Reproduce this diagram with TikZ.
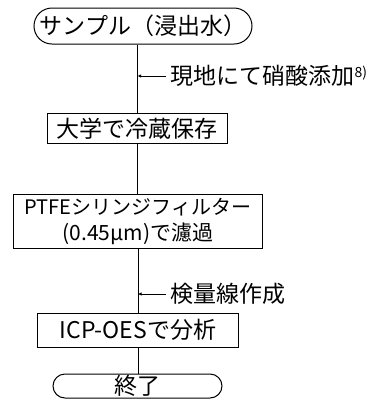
\documentclass[tikz,border=0pt]{standalone}
\usepackage{fontspec}
\setmainfont{Noto Sans CJK JP}
\usetikzlibrary{arrows.meta}
\begin{document}
\begin{tikzpicture}[x=1bp,y=-1bp,line width=1bp,
  every node/.style={font=\fontsize{23bp}{24bp}\selectfont,inner sep=0pt},
  boxnode/.style={draw,rectangle},
  stadium/.style={draw,rectangle,rounded corners=#1},
  notenode/.style={anchor=west},
  note/.style={-{Latex[length=3.5bp,width=3.5bp]},line width=0.8bp}]
\useasboundingbox (0,0) rectangle (385,400);
\node[stadium=18bp,minimum width=218bp,minimum height=36bp] (s) at (143,26) {サンプル（浸出水）};
\node[boxnode,minimum width=179bp,minimum height=30bp] (b1) at (137.5,128.5) {大学で冷蔵保存};
\node[boxnode,minimum width=248bp,minimum height=54bp,align=center,
      font=\fontsize{20bp}{26bp}\selectfont] (b2) at (138,221) {PTFEシリンジフィルター\\{\fontsize{21bp}{26bp}\selectfont (0.45µm)で濾過}};
\node[boxnode,minimum width=200bp,minimum height=34bp] (b3) at (138,330) {ICP-OESで分析};
\node[stadium=12bp,minimum width=169bp,minimum height=24bp] (e) at (137.5,386) {終了};
\node[notenode] (t1) at (170,76) {現地にて硝酸添加\raisebox{7bp}{\fontsize{14bp}{14bp}\selectfont 8)}};
\node[notenode] (t2) at (170,294) {検量線作成};
\draw (b1.north |- s.south) -- (b1.north);
\draw (b1.south) -- (b1.south |- b2.north);
\draw (b3.north |- b2.south) -- (b3.north);
\draw (b3.south) -- (b3.south |- e.north);
\coordinate (a1) at (b1.north |- t1.west);
\coordinate (a2) at (b3.north |- t2.west);
\draw[note] ([xshift=-4bp]t1.west) -- (a1);
\draw[note] ([xshift=-4bp]t2.west) -- (a2);
\end{tikzpicture}
\end{document}
